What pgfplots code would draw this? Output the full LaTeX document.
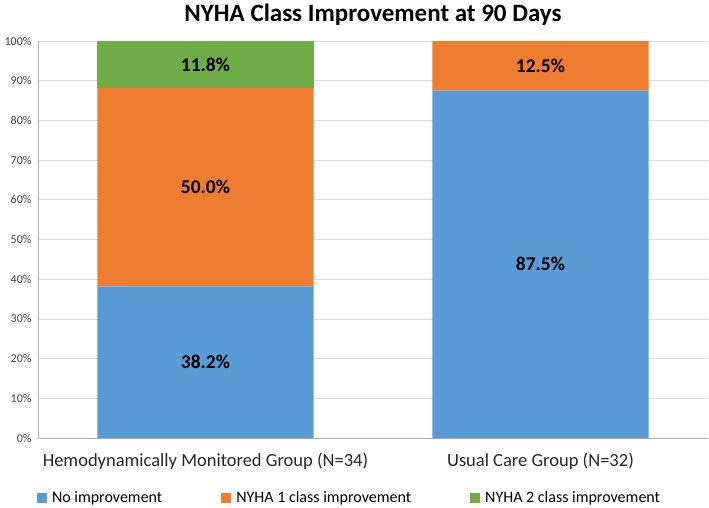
\documentclass[border=0pt]{standalone}
\usepackage{pgfplots}
\pgfplotsset{compat=1.18}
\usepackage{fontspec}
\setmainfont{Carlito}
\definecolor{cblue}{HTML}{5B9BD5}
\definecolor{corange}{HTML}{ED7D31}
\definecolor{cgreen}{HTML}{70AD47}
\definecolor{cgrid}{HTML}{D9D9D9}
\begin{document}
\begin{tikzpicture}
\useasboundingbox (-38pt,-69pt) rectangle (671pt,438pt);
\begin{axis}[
	scale only axis,
	width=670pt, height=397pt,
	at={(0pt,0pt)}, anchor=south west,
	ybar stacked,
	bar width=0.645,
	xmin=-0.5, xmax=1.5,
	ymin=0, ymax=100,
	xtick=data,
	xticklabels={Hemodynamically Monitored Group (N=34), Usual Care Group (N=32)},
	x tick label style={font=\fontsize{18.5}{22}\selectfont, color=black!85, yshift=-11pt},
	ytick={0,10,...,100},
	yticklabel={\pgfmathprintnumber{\tick}\%},
	/pgf/number format/assume math mode=true,
	y tick label style={font=\fontsize{12}{14}\selectfont, color=black!75, xshift=-3pt},
	major tick length=0pt,
	ymajorgrids,
	grid style={cgrid, line width=0.8pt},
	axis lines*=left,
	axis line style={draw=black!30, line width=0.8pt},
	legend style={at={(0.465,-0.151)}, anchor=center, draw=none,
		legend columns=3, font=\fontsize{16}{19}\selectfont,
		/tikz/every even column/.append style={column sep=57pt}},
	legend image code/.code={\fill[#1] (0pt,-5pt) rectangle (10pt,5pt); \path (0pt,0pt) -- (13pt,0pt);},
	clip=false,
]
\addplot[fill=cblue, draw=none] coordinates {(0,38.2) (1,87.5)};
\addplot[fill=corange, draw=none] coordinates {(0,50.0) (1,12.5)};
\addplot[fill=cgreen, draw=none] coordinates {(0,11.8) (1,0)};
\legend{No improvement, NYHA 1 class improvement, NYHA 2 class improvement}

\coordinate (l1) at (axis cs:0,19.1);
\coordinate (l2) at (axis cs:0,63.2);
\coordinate (l3) at (axis cs:0,94.1);
\coordinate (l4) at (axis cs:1,43.75);
\coordinate (l5) at (axis cs:1,93.75);
\node[font=\bfseries\fontsize{25}{30}\selectfont] at (axis description cs:0.5,1.0655) {NYHA Class Improvement at 90 Days};
\end{axis}
\begin{scope}[every node/.style={font=\bfseries\fontsize{19.5}{23}\selectfont}]
\node at (l1) {38.2\%};
\node at (l2) {50.0\%};
\node at (l3) {11.8\%};
\node at (l4) {87.5\%};
\node at (l5) {12.5\%};
\end{scope}
\end{tikzpicture}
\end{document}
